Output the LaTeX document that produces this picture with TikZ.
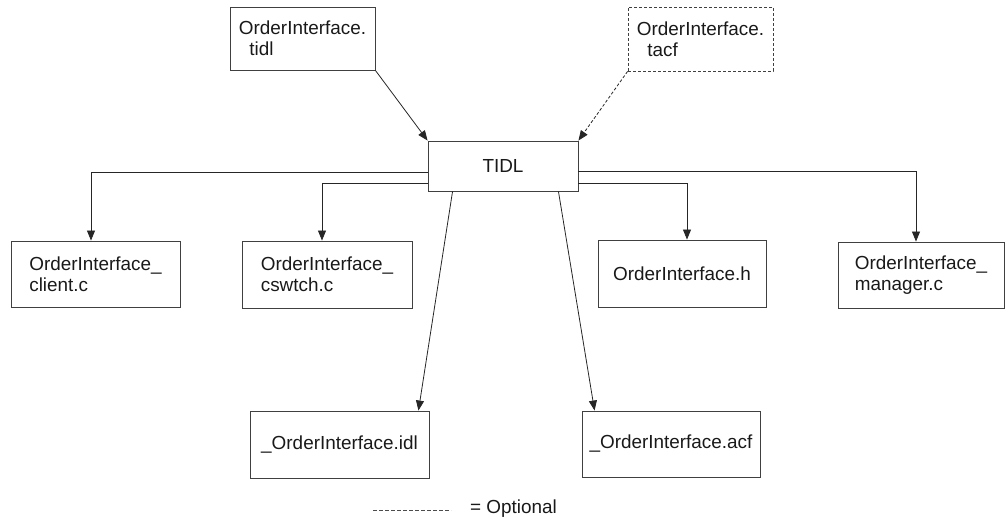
\documentclass[tikz,border=0pt]{standalone}
\usepackage{fontspec}
\setmainfont{Liberation Sans}
\usetikzlibrary{arrows.meta,calc}
\begin{document}
\begin{tikzpicture}[x=1pt,y=-1pt,
  every node/.style={font=\fontsize{18.9}{21}\selectfont, text=black!90},
  filebox/.style={draw=black!75, line width=0.9pt, rectangle, inner sep=0pt, align=left},
  optbox/.style={filebox, dashed, dash pattern=on 3pt off 2pt},
  conn/.style={draw=black!85, line width=0.8pt, -{Triangle[length=10pt,width=8pt]}},
  optconn/.style={conn, dash pattern=on 3pt off 2pt},
  txt/.style={inner sep=0pt}
]
\useasboundingbox (0,0) rectangle (1005,529);
% top inputs
\node[filebox, minimum width=145pt, minimum height=63pt] (tidl) at (302.5,38.5) {OrderInterface.\\\hspace*{0.55em}tidl};
\node[optbox, minimum width=145pt, minimum height=64pt] (tacf) at (700.5,39) {OrderInterface.\\\hspace*{0.55em}tacf};
% central
\node[filebox, minimum width=150pt, minimum height=50pt] (T) at (503,166) {TIDL};
% outputs row
\node[filebox, minimum width=169pt, minimum height=66pt] (client) at (95.5,274) {OrderInterface\_\\client.c};
\node[filebox, minimum width=170pt, minimum height=67pt] (cswtch) at (327,274.5) {OrderInterface\_\\cswtch.c};
\node[filebox, minimum width=168pt, minimum height=67pt] (hfile) at (682,273.5) {OrderInterface.h};
\node[filebox, minimum width=166pt, minimum height=66pt] (manager) at (921,275) {OrderInterface\_\\manager.c};
% bottom row
\node[filebox, minimum width=179pt, minimum height=67pt] (idl) at (339.5,444.5) {\_OrderInterface.idl};
\node[filebox, minimum width=178pt, minimum height=66pt] (acf) at (671,444) {\_OrderInterface.acf};
% connectors
\draw[conn] (tidl.south east) -- (T.north west);
\draw[optconn] (tacf.south west) -- (T.north east);
\draw[conn] ([yshift=-6pt]T.west) -| ([xshift=-4.5pt]client.north);
\draw[conn] ([yshift=-17pt]T.west) -| ([xshift=-5pt]cswtch.north);
\draw[conn] ([yshift=-17pt]T.east) -| ([xshift=5pt]hfile.north);
\draw[conn] ([yshift=-5pt]T.east) -| ([xshift=-5pt]manager.north);
\draw[conn] ([xshift=25pt]T.south west) -- ([xshift=-11pt]idl.north east);
\draw[conn] ([xshift=-20pt]T.south east) -- ([xshift=13pt]acf.north west);
% legend
\coordinate (lgA) at (373,510);
\coordinate (lgB) at (451,510);
\draw[draw=black!70, line width=0.6pt, dash pattern=on 3.5pt off 2.5pt] (lgA) -- (lgB);
\node[txt, anchor=base west] (lgtext) at (470,514) {= Optional};
\end{tikzpicture}
\end{document}
